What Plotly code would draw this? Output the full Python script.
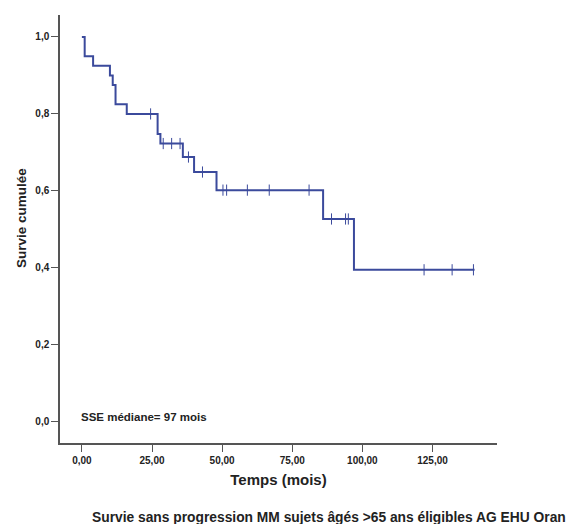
import plotly.graph_objects as go

# Kaplan-Meier step data (time in months, cumulative survival after step)
step_times = [0, 1, 4, 10, 11, 12, 16, 27, 28, 36, 40, 48, 86, 97, 140]
step_surv = [1.0, 0.95, 0.925, 0.9, 0.875, 0.825, 0.80, 0.748, 0.723, 0.688, 0.649, 0.602, 0.527, 0.395, 0.395]

# Censored observations
cens_times = [24.5, 29, 32, 35, 38, 43, 50.3, 51.6, 59, 66.8, 81, 89, 94, 95, 122, 132, 139.6]
cens_surv = [0.80, 0.723, 0.723, 0.723, 0.688, 0.649, 0.602, 0.602, 0.602, 0.602, 0.602,
             0.527, 0.527, 0.527, 0.395, 0.395, 0.395]

x_ticks = [0, 25, 50, 75, 100, 125]
x_ticklabels = ["0,00", "25,00", "50,00", "75,00", "100,00", "125,00"]
y_ticks = [0.0, 0.2, 0.4, 0.6, 0.8, 1.0]
y_ticklabels = ["0,0", "0,2", "0,4", "0,6", "0,8", "1,0"]

FONT = "Liberation Sans, Arial, sans-serif"
LINE = "#3b4a9c"

fig = go.Figure()
fig.add_trace(go.Scatter(
    x=step_times, y=step_surv, mode="lines",
    line=dict(color=LINE, width=2, shape="hv"),
    hoverinfo="skip", showlegend=False))
fig.add_trace(go.Scatter(
    x=cens_times, y=cens_surv, mode="markers",
    marker=dict(symbol="line-ns", size=8, line=dict(color=LINE, width=1)),
    showlegend=False))

pw, ph = 570 - 60 - 73, 524 - 15 - 81

fig.update_layout(
    width=570, height=524,
    margin=dict(l=60, r=73, t=15, b=81),
    paper_bgcolor="white", plot_bgcolor="white",
    font=dict(family=FONT, color="#222"),
    xaxis=dict(range=[-7.8, 148], tickvals=x_ticks, ticktext=x_ticklabels,
               showgrid=False, zeroline=False, showline=True, linecolor="#555",
               linewidth=1.5, ticks="outside", ticklen=7, tickcolor="#555",
               tickfont=dict(size=10, family=FONT, weight="bold"),
               title=dict(text="<b>Temps (mois)</b>", font=dict(size=15), standoff=10)),
    yaxis=dict(range=[-0.055, 1.057], tickvals=y_ticks, ticktext=y_ticklabels,
               showgrid=False, zeroline=False, showline=True, linecolor="#555",
               linewidth=1.5, ticks="outside", ticklen=7, tickcolor="#555",
               tickfont=dict(size=10, family=FONT, weight="bold")),
    annotations=[
        dict(text="<b>Survie cumulée</b>", textangle=-90,
             x=(21 - 60) / pw, y=(443 - 218) / ph, xref="paper", yref="paper",
             xanchor="center", yanchor="middle",
             showarrow=False, font=dict(size=13.5, family=FONT)),
        dict(text="<b>SSE médiane= 97 mois</b>",
             x=(79 - 60) / pw, y=(443 - 417) / ph, xref="paper", yref="paper",
             xanchor="left", yanchor="middle",
             showarrow=False, font=dict(size=11.5, family=FONT)),
        dict(text="<b>Survie sans progression MM sujets âgés &gt;65 ans éligibles AG EHU Oran</b>",
             x=(329 - 60) / pw, y=(443 - 517) / ph, xref="paper", yref="paper",
             xanchor="center", yanchor="middle",
             showarrow=False, font=dict(size=13.8, family=FONT)),
    ],
)

fig.write_html("out.html")
